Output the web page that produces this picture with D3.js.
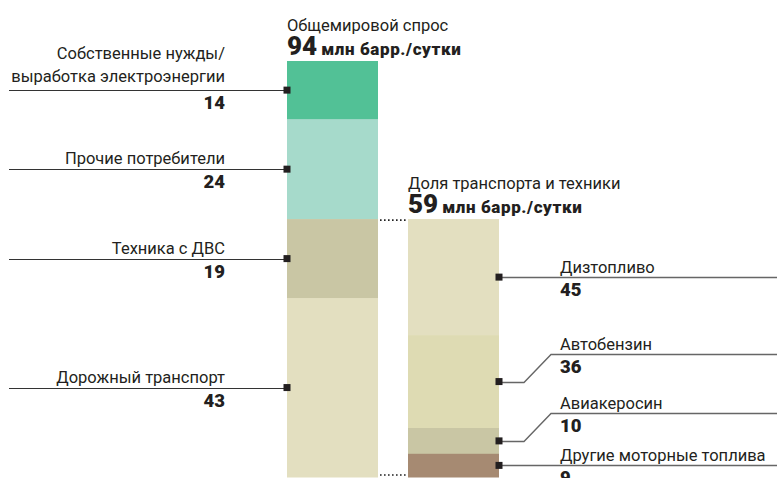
<!DOCTYPE html>
<html>
<head>
<meta charset="utf-8">
<script src="https://cdn.jsdelivr.net/npm/d3@7"></script>
<style>
  body { margin: 0; background: #fff; }
  svg { display: block; font-family: Roboto, "Noto Sans", sans-serif; }
</style>
</head>
<body>
<svg id="chart" width="777" height="478"></svg>
<script>
// world oil demand, percent shares
var worldCats = ["Собственные нужды/|выработка электроэнергии", "Прочие потребители", "Техника с ДВС", "Дорожный транспорт"];
var worldShares = [14, 24, 19, 43];
var worldColors = ["#52c196", "#a6dacb", "#c9c6a4", "#e3dfc0"];

// transport & machinery share, percent
var transportCats = ["Дизтопливо", "Автобензин", "Авиакеросин", "Другие моторные топлива"];
var transportShares = [45, 36, 10, 9];
var transportColors = ["#e3dfc0", "#dedbb3", "#c9c6a4", "#a68a72"];

var totals = [94, 59];
var titles = ["Общемировой спрос", "Доля транспорта и техники"];
var unit = "млн барр./сутки";

var svg = d3.select("#chart");

function stackUp(values) {
  var acc = 0;
  return values.map(function(v, i) {
    var d = {i: i, v: v, y0: acc, y1: acc + v};
    acc += v;
    return d;
  });
}

var worldStack = stackUp(worldShares);
var transportStack = stackUp(transportShares);

var yLeft = d3.scaleLinear().domain([0, 100]).range([61, 477]);
// right bar covers the machinery + road transport part of the left bar
var yRight = d3.scaleLinear().domain([0, 100])
  .range([yLeft(worldShares[0] + worldShares[1]), yLeft(100)]);

var xLeft = d3.scaleLinear().domain([0, 1]).range([287, 378]);
var xRight = d3.scaleLinear().domain([0, 1]).range([408, 499]);

var labelSize = 16.5;

// left bar
svg.append("g").selectAll("rect")
  .data(worldStack)
  .enter().append("rect")
    .attr("x", xLeft(0))
    .attr("width", xLeft(1) - xLeft(0))
    .attr("y", d => yLeft(d.y0))
    .attr("height", d => yLeft(d.y1) - yLeft(d.y0) + 0.5)
    .attr("fill", d => worldColors[d.i]);

// right bar
svg.append("g").selectAll("rect")
  .data(transportStack)
  .enter().append("rect")
    .attr("x", xRight(0))
    .attr("width", xRight(1) - xRight(0))
    .attr("y", d => yRight(d.y0))
    .attr("height", d => yRight(d.y1) - yRight(d.y0) + 0.5)
    .attr("fill", d => transportColors[d.i]);

// dotted connectors
[yRight(0) + 1, yRight(100) - 2].forEach(function(y) {
  svg.append("line")
    .attr("x1", xLeft(1) + 2).attr("x2", xRight(0))
    .attr("y1", y).attr("y2", y)
    .attr("stroke", "#222")
    .attr("stroke-width", 1.6)
    .attr("stroke-dasharray", "1.6,2.4");
});

// left labels
var leftG = svg.append("g").selectAll("g")
  .data(worldStack)
  .enter().append("g");

leftG.append("line")
  .attr("x1", 9).attr("x2", xLeft(0))
  .attr("y1", d => Math.round(yLeft((d.y0 + d.y1) / 2)) + 0.5)
  .attr("y2", d => Math.round(yLeft((d.y0 + d.y1) / 2)) + 0.5)
  .attr("stroke", "#333").attr("stroke-width", 1);

leftG.append("rect")
  .attr("x", xLeft(0) - 3.5).attr("width", 7)
  .attr("y", d => yLeft((d.y0 + d.y1) / 2) - 3.5).attr("height", 7)
  .attr("fill", "#231f20");

leftG.each(function(d) {
  var g = d3.select(this);
  var y = yLeft((d.y0 + d.y1) / 2);
  var lines = worldCats[d.i].split("|");
  lines.forEach(function(t, k) {
    var off = lines.length > 1 ? -8 - (lines.length - 1 - k) * 23 : -5;
    g.append("text")
      .attr("x", 225).attr("y", y + off)
      .attr("text-anchor", "end")
      .attr("font-size", labelSize)
      .attr("fill", "#231f20")
      .text(t);
  });
  g.append("text")
    .attr("x", 225).attr("y", y + 19)
    .attr("text-anchor", "end")
    .attr("font-size", 18.5).attr("font-weight", 900)
    .attr("fill", "#231f20")
    .text(worldShares[d.i]);
});

// right labels; middle two are lifted with an elbow
var lift = [0, -28, -28, 0];
var rightG = svg.append("g").selectAll("g")
  .data(transportStack)
  .enter().append("g");

rightG.append("path")
  .attr("d", function(d) {
    var y = Math.round(yRight((d.y0 + d.y1) / 2)) + 0.5;
    var ly = y + lift[d.i];
    if (lift[d.i] === 0) return "M" + xRight(1) + "," + y + "H777";
    return "M" + xRight(1) + "," + y + "H524L551," + ly + "H777";
  })
  .attr("fill", "none")
  .attr("stroke", "#666").attr("stroke-width", 1.4);

rightG.append("rect")
  .attr("x", xRight(1) - 3.5).attr("width", 7)
  .attr("y", d => yRight((d.y0 + d.y1) / 2) - 3.5).attr("height", 7)
  .attr("fill", "#231f20");

rightG.each(function(d) {
  var g = d3.select(this);
  var y = yRight((d.y0 + d.y1) / 2) + lift[d.i];
  g.append("text")
    .attr("x", 560).attr("y", y - 4)
    .attr("font-size", labelSize)
    .attr("fill", "#231f20")
    .text(transportCats[d.i]);
  g.append("text")
    .attr("x", 560).attr("y", y + 19)
    .attr("font-size", 18.5).attr("font-weight", 900)
    .attr("fill", "#231f20")
    .text(transportShares[d.i]);
});

// titles
[[xLeft(0), yLeft(0)], [xRight(0), yRight(0)]].forEach(function(p, i) {
  svg.append("text")
    .attr("x", p[0]).attr("y", p[1] - 30)
    .attr("font-size", labelSize)
    .attr("fill", "#231f20")
    .text(titles[i]);
  var t = svg.append("text")
    .attr("x", p[0]).attr("y", p[1] - 6)
    .attr("fill", "#231f20")
    .attr("font-weight", 900);
  t.append("tspan").attr("font-size", 26).text(totals[i]);
  t.append("tspan").attr("font-size", 17).attr("dx", 4)
    .attr("letter-spacing", 0.6).text(unit);
});
</script>
</body>
</html>
